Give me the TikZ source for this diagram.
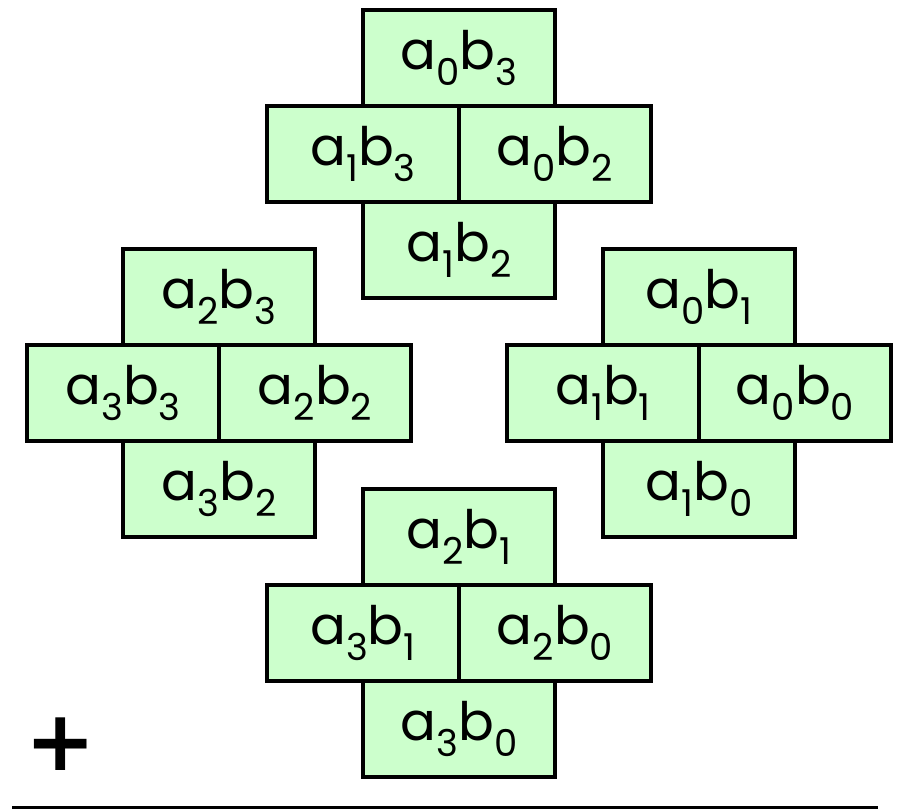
\documentclass[tikz,border=0pt]{standalone}
\usepackage{fontspec}
\setmainfont{Poppins}
\newfontfamily\plusfont{DejaVu Sans}
\definecolor{cellgreen}{RGB}{204,255,204}
% product term a_i b_j with dropped subscripts
\newcommand\term[2]{a\raisebox{-0.3em}{\fontsize{37}{37}\selectfont #1}b\raisebox{-0.3em}{\fontsize{37}{37}\selectfont #2}}
\tikzset{
  cell/.style={draw=black, fill=cellgreen, line width=4.5pt, rectangle,
    minimum width=192pt, minimum height=96pt, inner sep=0pt, outer sep=0pt,
    font=\fontsize{53}{53}\selectfont},
  rule/.style={draw=black, line width=3pt}
}
\begin{document}
\begin{tikzpicture}[x=1pt,y=-1pt]
\useasboundingbox (0,0) rectangle (898,810);
% upper cluster
\node[cell] (u1) at (459,58)  {\term{0}{3}};
\node[cell] (u2) at (363,154) {\term{1}{3}};
\node[cell] (u3) at (555,154) {\term{0}{2}};
\node[cell] (u4) at (459,250) {\term{1}{2}};
% left cluster
\node[cell] (l1) at (219,297) {\term{2}{3}};
\node[cell] (l2) at (123,393) {\term{3}{3}};
\node[cell] (l3) at (315,393) {\term{2}{2}};
\node[cell] (l4) at (219,489) {\term{3}{2}};
% right cluster
\node[cell] (r1) at (699,297) {\term{0}{1}};
\node[cell] (r2) at (603,393) {\term{1}{1}};
\node[cell] (r3) at (795,393) {\term{0}{0}};
\node[cell] (r4) at (699,489) {\term{1}{0}};
% lower cluster
\node[cell] (d1) at (459,537) {\term{2}{1}};
\node[cell] (d2) at (363,633) {\term{3}{1}};
\node[cell] (d3) at (555,633) {\term{2}{0}};
\node[cell] (d4) at (459,729) {\term{3}{0}};
% sum sign and rule
\node[inner sep=0pt, font=\plusfont\bfseries\fontsize{84}{84}\selectfont] (plus) at (61,744) {+};
\coordinate (ruleL) at (12,807.5);
\coordinate (ruleR) at (878,807.5);
\draw[rule] (ruleL) -- (ruleR);
\end{tikzpicture}
\end{document}
